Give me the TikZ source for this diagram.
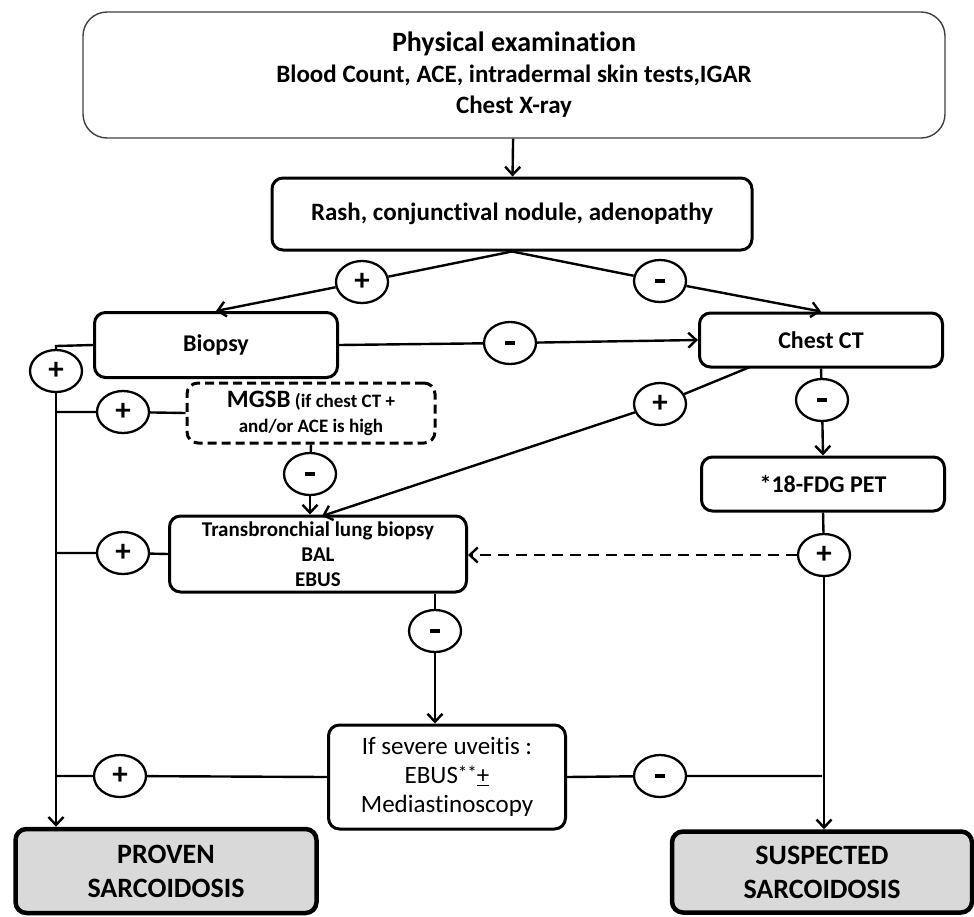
\documentclass[tikz,border=0pt]{standalone}
\usepackage{fontspec}
\setmainfont{Carlito}[Ligatures=NoCommon]
\usetikzlibrary{shapes.geometric,arrows.meta}
\newcommand\minussign{\rule{10pt}{4.5pt}}
\begin{document}
\begin{tikzpicture}[x=1pt,y=-1pt,
  box/.style={draw, line width=3pt, rounded corners=11pt, align=center, inner sep=0pt,
    font=\bfseries\fontsize{24}{29}\selectfont},
  endbox/.style={box, line width=4.5pt, fill=black!15, minimum width=301pt,
    font=\bfseries\fontsize{28}{34}\selectfont},
  sgn/.style={draw, ellipse, line width=2.3pt, fill=white, minimum width=52pt,
    minimum height=42pt, inner sep=0pt, font=\bfseries\fontsize{31}{31}\selectfont},
  arr/.style={-{Straight Barb[length=8pt,width=15pt]}, line width=2.4pt},
  ln/.style={line width=2.4pt}]
\useasboundingbox (0,0) rectangle (974,916);

% boxes
\node[box, draw=black!75, line width=1.4pt, rounded corners=24pt, minimum width=862pt,
  minimum height=126pt, font=\bfseries\fontsize{25}{31}\selectfont] (top) at (514,75)
  {{\fontsize{28}{31}\selectfont Physical examination}\\Blood Count, ACE, intradermal skin tests,IGAR\\Chest X-ray};
\node[box, minimum width=480pt, minimum height=72pt, font=\bfseries\fontsize{25}{29}\selectfont] (rash) at (512,214) {Rash, conjunctival nodule, adenopathy};
\node[box, minimum width=243pt, minimum height=65pt] (biopsy) at (216,345) {Biopsy};
\node[box, minimum width=243pt, minimum height=54pt] (ct) at (821,340) {Chest CT};
\node[box, dash pattern=on 9pt off 5pt, minimum width=248pt, minimum height=60pt,
  font=\bfseries\fontsize{19}{25}\selectfont] (mgsb) at (311,413)
  {{\fontsize{25}{25}\selectfont MGSB} (if chest CT +\\and/or ACE is high};
\node[box, minimum width=243pt, minimum height=54pt] (pet) at (823,484) {*18-FDG PET};
\node[box, minimum width=297pt, minimum height=76pt,
  font=\bfseries\fontsize{21}{25}\selectfont] (tblb) at (318,554)
  {Transbronchial lung biopsy\\BAL\\EBUS};
\node[box, minimum width=237pt, minimum height=104pt,
  font=\fontsize{25}{29}\selectfont] (uv) at (447,777)
  {If severe uveitis :\\EBUS\raisebox{4pt}{\fontsize{19}{19}\selectfont **}\underline{+}\\Mediastinoscopy};
\node[endbox, minimum height=84pt] (proven) at (166,871) {PROVEN\\SARCOIDOSIS};
\node[endbox, minimum width=300pt, minimum height=81pt] (susp) at (822,872) {SUSPECTED\\SARCOIDOSIS};

% sign circles
\node[sgn] (s1) at (362,282) {+};
\node[sgn] (s2) at (660,281) {\minussign};
\node[sgn] (s3) at (510,343) {\minussign};
\node[sgn] (s4) at (56,371) {+};
\node[sgn] (s5) at (123,412) {+};
\node[sgn] (s6) at (310,474) {\minussign};
\node[sgn] (s7) at (660,404) {+};
\node[sgn] (s8) at (822,400) {\minussign};
\node[sgn] (s9) at (123,553) {+};
\node[sgn] (s10) at (824,555) {+};
\node[sgn] (s11) at (435,631) {\minussign};
\node[sgn] (s12) at (120,776) {+};
\node[sgn] (s13) at (660,776) {\minussign};

\coordinate (Lt) at (56,346);
\coordinate (Rt) at (822,776);
\coordinate (ctb) at (750,367);
\coordinate (tblbt) at (322,516);

% connectors
\draw[arr] (top) -- (rash);
\draw[ln] (rash.south) -- (s1);
\draw[arr] (s1) -- (biopsy.north);
\draw[ln] (rash.south) -- (s2);
\draw[arr] (s2) -- (ct.north);
\draw[ln] (biopsy.east) -- (s3);
\draw[arr] (s3) -- (ct.west);
\draw[ln] (biopsy.west) -- (Lt) -- (s4);
\draw[arr] (s4) -- (s4 |- proven.north);
\draw[ln] (mgsb.west) -- (s5) -- (s5 -| Lt);
\draw[ln] (mgsb.south) -- (s6);
\draw[arr] (s6) -- (s6 |- tblb.north);
\draw[ln] (ctb) -- (s7);
\draw[arr] (s7) -- (tblbt);
\draw[ln] (ct.south) -- (s8);
\draw[arr] (s8) -- (pet.north);
\draw[ln] (tblb.west) -- (s9) -- (s9 -| Lt);
\draw[ln] (pet.south) -- (s10);
\draw[arr, dash pattern=on 11pt off 7pt] (s10) -- (tblb.east |- s10);
\draw[arr] (s10) -- (s10 |- susp.north);
\draw[ln] (s11 |- tblb.south) -- (s11);
\draw[arr] (s11) -- (s11 |- uv.north);
\draw[ln] (uv.west) -- (s12) -- (s12 -| Lt);
\draw[ln] (uv.east) -- (s13) -- (Rt);
\end{tikzpicture}
\end{document}
